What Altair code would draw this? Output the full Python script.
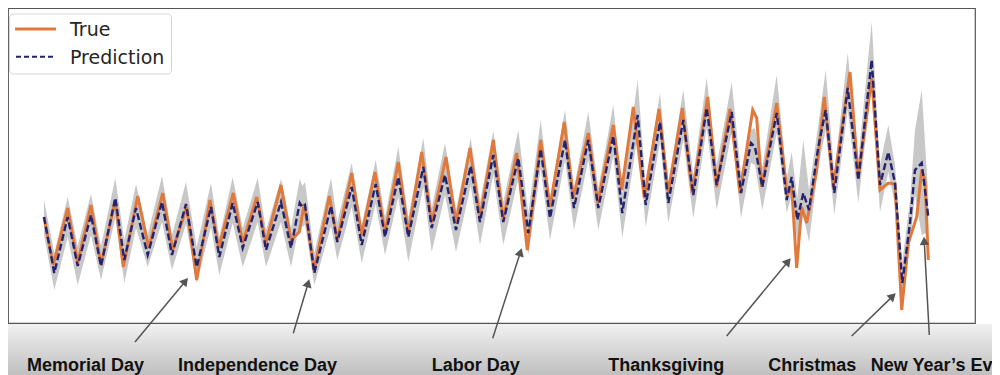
import math
import altair as alt
import pandas as pd

# ---- data (t = time index, v = value, arbitrary units) ----
true_t = [0, 9.3, 23.7, 33.7, 47, 57, 71.3, 79.3, 93.7, 104.7,
          118.7, 128.7, 142.7, 152.7, 166, 174.7, 189.3, 198.7, 212.7, 222,
          237, 247, 255.3, 260.3, 270.3, 285.3, 293.3, 307.7, 317.7, 331,
          341, 354.3, 364.3, 377.7, 387.7, 402, 412, 426, 436, 449.3,
          459.3, 472.7, 483.3, 496.7, 506, 520.3, 529.3, 544.3, 553.7, 569.3,
          577.7, 589.3, 600.3, 615, 624.3, 638.3, 648.3, 663.7, 672.7, 686,
          696, 708.7, 712.7, 717.7, 732.7, 743.3, 747.7, 752.7, 757.7, 762.7,
          772.7, 780.3, 789.3, 806, 814.3, 827.7, 836, 844.3, 851, 857.7,
          864.3, 872.7, 877.7, 881, 884.3]
true_v = [113, 65, 122, 67, 125, 65, 130, 63, 134, 82,
          137, 80, 123, 50, 130, 82, 137, 87, 133, 87,
          145, 90, 98, 126, 60, 134, 90, 157, 95, 158,
          97, 168, 97, 178, 107, 173, 107, 182, 112, 190,
          110, 177, 80, 190, 123, 208, 132, 197, 127, 205,
          140, 223, 132, 221, 137, 222, 137, 233, 143, 221,
          137, 220, 212, 143, 227, 135, 143, 62, 123, 107,
          160, 233, 143, 258, 153, 252, 140, 147, 146, 20,
          87, 113, 160, 150, 70]

pred_t = [0, 10.3, 23.7, 33.7, 47, 57, 71.3, 80.3, 92, 103.7,
          118, 128, 142, 152.7, 167, 175.3, 188.7, 198.7, 213.7, 222,
          237, 247, 255.7, 258.3, 261, 270.3, 287, 293.3, 307.7, 317.7,
          331.7, 341, 354.3, 364.3, 379.3, 387.7, 401, 412, 426.7, 436,
          449.3, 459.3, 474.3, 484.3, 496.7, 506, 521, 530, 544.3, 554.3,
          569.3, 578.3, 593.7, 601.7, 616, 624.3, 639.3, 649.3, 662.7, 672.7,
          687.7, 697, 707, 711, 718.3, 732.7, 742.7, 747.7, 753.3, 759.3,
          765, 774.3, 781.7, 790.3, 803.7, 814.3, 827.7, 836, 844.3, 851,
          858.3, 866, 871, 877.7, 884.3]
pred_v = [113, 57, 113, 64, 115, 64, 132, 70, 122, 75,
          128, 75, 126, 63, 123, 73, 127, 82, 128, 80,
          128, 82, 127, 123, 125, 57, 124, 88, 143, 85,
          146, 93, 153, 93, 163, 102, 155, 100, 164, 108,
          175, 108, 172, 97, 181, 112, 190, 122, 190, 122,
          194, 117, 215, 125, 208, 127, 210, 135, 222, 145,
          218, 137, 187, 183, 143, 217, 130, 153, 110, 137,
          120, 183, 220, 137, 242, 150, 270, 145, 178, 147,
          47, 107, 160, 167, 113]
band_hi = [130, 77, 133, 84, 136, 84, 152, 90, 146, 95,
           154, 95, 148, 83, 147, 93, 153, 102, 152, 100,
           151, 102, 151, 144, 148, 77, 152, 108, 167, 105,
           170, 113, 183, 113, 192, 122, 187, 120, 192, 128,
           199, 128, 200, 117, 210, 132, 220, 142, 218, 142,
           225, 137, 250, 145, 237, 147, 240, 155, 252, 165,
           248, 157, 200, 202, 163, 255, 152, 178, 132, 190,
           140, 205, 260, 157, 277, 170, 308, 165, 205, 165,
           68, 130, 200, 240, 135]
band_lo = [95, 40, 93, 45, 95, 50, 112, 47, 102, 63,
           108, 60, 106, 47, 103, 55, 107, 63, 108, 63,
           108, 63, 107, 103, 105, 45, 104, 70, 123, 67,
           126, 75, 133, 68, 143, 78, 135, 78, 144, 85,
           155, 85, 152, 75, 161, 90, 170, 100, 170, 100,
           174, 92, 195, 103, 188, 107, 190, 112, 202, 120,
           198, 112, 167, 165, 120, 197, 117, 135, 87, 115,
           88, 163, 200, 115, 220, 127, 245, 118, 158, 125,
           28, 85, 135, 95, 98]

holidays = ["Memorial Day", "Independence Day", "Labor Day",
            "Thanksgiving", "Christmas", "New Year\u2019s Eve"]
label_t = [-17, 134, 387.7, 564.3, 724.3, 826.7]
label_v = [-41, -41, -41, -41, -41, -41]
tail_t = [91, 249.3, 448.7, 682.7, 807.7, 885.3]
tail_v = [-12, -3.3, -8.3, -6, -6, -5]
tip_t = [144, 265.3, 477.7, 746.7, 851.7, 880]
tip_v = [52, 50.7, 81.7, 71.7, 36.7, 93.3]

# ---- build tables ----
true_df = pd.DataFrame({"t": true_t, "v": true_v})
pred_df = pd.DataFrame({"t": pred_t, "v": pred_v, "hi": band_hi, "lo": band_lo})

HEAD = 4.1
rows = []
for name, lt, lv, at, av, pt, pv in zip(holidays, label_t, label_v,
                                        tail_t, tail_v, tip_t, tip_v):
    dt, dv = pt - at, pv - av
    L = math.hypot(dt, dv)
    ut, uv = dt / L, dv / L
    ang = math.degrees(math.atan2(ut, uv)) % 360
    rows.append({"name": name, "lt": lt, "lv": lv, "at": at, "av": av,
                 "ht": pt - HEAD * ut, "hv": pv - HEAD * uv, "angle": ang})
ann_df = pd.DataFrame(rows)

xs = alt.Scale(domain=[-36, 931], nice=False, zero=False)
ys = alt.Scale(domain=[7, 322], nice=False, zero=False)

def X(f):
    return alt.X(f, type="quantitative", scale=xs, axis=None)

def Y(f):
    return alt.Y(f, type="quantitative", scale=ys, axis=None)

one = pd.DataFrame({"a": [0]})

banner = alt.Chart(one).mark_rect(
    fill=alt.Gradient(gradient="linear", x1=0, y1=0, x2=0, y2=1,
                      stops=[alt.GradientStop(offset=0, color="#f1f1f1"),
                             alt.GradientStop(offset=1, color="#bfbfbf")])
).encode(x=alt.value(-8), x2=alt.value(992), y=alt.value(316), y2=alt.value(367))

band = alt.Chart(pred_df).mark_area(color="#c8c8c8").encode(
    x=X("t"), y=Y("hi"), y2="lo")
true_line = alt.Chart(true_df).mark_line(color="#e07a3c", strokeWidth=3).encode(
    x=X("t"), y=Y("v"))
pred_line = alt.Chart(pred_df).mark_line(color="#23236f", strokeWidth=2.4,
                                         strokeDash=[7, 3]).encode(
    x=X("t"), y=Y("v"))

arrows = alt.Chart(ann_df).mark_rule(color="#555555", strokeWidth=1.5).encode(
    x=X("at"), y=Y("av"), x2="ht", y2="hv")
heads = alt.Chart(ann_df).mark_point(shape="triangle-up", filled=True, size=90,
                                     color="#555555", opacity=1).encode(
    x=X("ht"), y=Y("hv"), angle=alt.Angle("angle:Q", scale=None))
labels = alt.Chart(ann_df).mark_text(
    align="left", baseline="alphabetic", font="Liberation Sans",
    fontWeight="bold", fontSize=18, color="#111111").encode(
    x=X("lt"), y=Y("lv"), text="name:N")

# legend (drawn by hand, in plot pixels)
leg_box = alt.Chart(one).mark_rect(fill="white", stroke="#d6d6d6", strokeWidth=1,
                                   cornerRadius=4).encode(
    x=alt.value(1.5), x2=alt.value(163.5), y=alt.value(6), y2=alt.value(66))
leg_true = alt.Chart(one).mark_rule(color="#e07a3c", strokeWidth=3).encode(
    x=alt.value(7), x2=alt.value(48), y=alt.value(21))
leg_pred = alt.Chart(one).mark_rule(color="#23236f", strokeWidth=2,
                                    strokeDash=[5, 3]).encode(
    x=alt.value(8), x2=alt.value(48), y=alt.value(48.7))
leg_txt1 = alt.Chart(one).mark_text(align="left", baseline="alphabetic",
                                    font="DejaVu Sans", fontSize=19,
                                    color="#262626", text="True").encode(
    x=alt.value(62), y=alt.value(28))
leg_txt2 = alt.Chart(one).mark_text(align="left", baseline="alphabetic",
                                    font="DejaVu Sans", fontSize=19,
                                    color="#262626", text="Prediction").encode(
    x=alt.value(62), y=alt.value(56))

chart = alt.layer(
    banner, band, true_line, pred_line, arrows, heads, labels,
    leg_box, leg_true, leg_pred, leg_txt1, leg_txt2
).properties(
    width=967, height=315,
    autosize=alt.AutoSizeParams(type="none"),
    padding={"left": 0, "top": 0, "right": 17, "bottom": 52},
).configure_view(stroke="#555555", strokeWidth=1.2)

chart.save("out.html", embed_options={"renderer": "svg", "actions": False})
